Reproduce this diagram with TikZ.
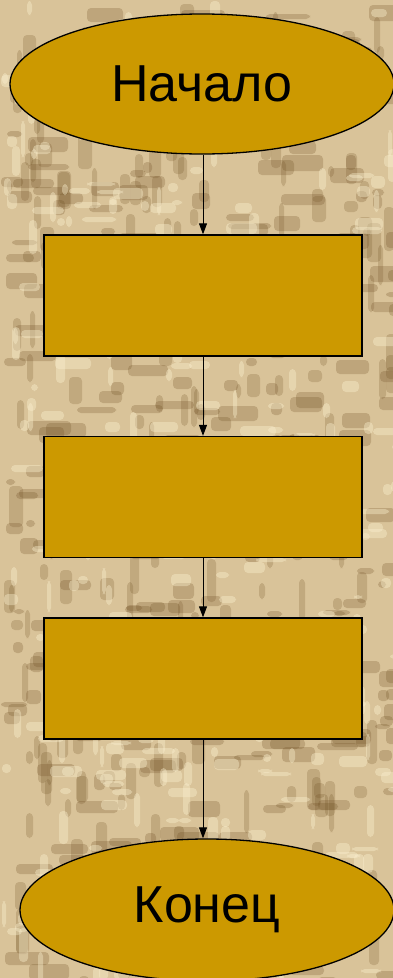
\documentclass[tikz,border=0pt]{standalone}
\usepackage{fontspec}
\setmainfont{Liberation Sans}
\usetikzlibrary{shapes.geometric,arrows.meta}
\definecolor{boxfill}{HTML}{CC9900}
\definecolor{bgbase}{HTML}{D9C399}
\definecolor{bgdark}{HTML}{6E4E22}
\definecolor{bglight}{HTML}{FBF0CF}
\tikzset{
  term/.style={ellipse, draw=black, line width=1.3pt, fill=boxfill, inner sep=0pt,
    minimum width=384pt, minimum height=140pt, font=\fontsize{52}{60}\selectfont},
  stepbox/.style={rectangle, draw=black, line width=1.3pt, fill=boxfill, inner sep=0pt,
    minimum width=318pt, minimum height=121pt},
  flow/.style={draw=black, line width=1pt, -{Triangle[length=11pt,width=8pt]}}
}
\begin{document}
\begin{tikzpicture}[x=1pt,y=-1pt]
\useasboundingbox (0,0) rectangle (393,978);
\begin{scope}
\clip (0,0) rectangle (393,978);
\fill[bgbase] (0,0) rectangle (393,978);
\pgfmathsetseed{11}
\foreach \i in {1,...,300}{
  \pgfmathsetmacro\px{random(0,393)}
  \pgfmathsetmacro\py{random(0,978)}
  \pgfmathsetmacro\pw{random(8,44)}
  \pgfmathsetmacro\ph{random(5,16)}
  \fill[bgdark, opacity=0.25, rounded corners=4pt] (\px,\py) rectangle ++(\pw,\ph);
}
\foreach \i in {1,...,260}{
  \pgfmathsetmacro\px{random(0,393)}
  \pgfmathsetmacro\py{random(0,978)}
  \pgfmathsetmacro\pw{random(5,14)}
  \pgfmathsetmacro\ph{random(10,44)}
  \fill[bgdark, opacity=0.22, rounded corners=4pt] (\px,\py) rectangle ++(\pw,\ph);
}
\foreach \i in {1,...,240}{
  \pgfmathsetmacro\px{random(0,393)}
  \pgfmathsetmacro\py{random(0,978)}
  \pgfmathsetmacro\pw{random(6,36)}
  \pgfmathsetmacro\ph{random(4,12)}
  \fill[bglight, opacity=0.4, rounded corners=4pt] (\px,\py) rectangle ++(\pw,\ph);
}
\foreach \i in {1,...,160}{
  \pgfmathsetmacro\px{random(0,393)}
  \pgfmathsetmacro\py{random(0,978)}
  \pgfmathsetmacro\pw{random(4,10)}
  \pgfmathsetmacro\ph{random(8,36)}
  \fill[bglight, opacity=0.4, rounded corners=4pt] (\px,\py) rectangle ++(\pw,\ph);
}
\end{scope}
\node[term] (start) at (202,84) {Начало};
\node[stepbox] (s1) at (203,295.5) {};
\node[stepbox] (s2) at (203,497) {};
\node[stepbox] (s3) at (203,678.5) {};
\node[term, minimum width=374pt, minimum height=142pt] (end) at (207,910) {Конец};
\draw[flow] (start.south -| s1.north) -- (s1.north);
\draw[flow] (s1.south) -- (s2.north);
\draw[flow] (s2.south) -- (s3.north);
\draw[flow] (s3.south) -- (s3.south |- end.north);
\end{tikzpicture}
\end{document}
